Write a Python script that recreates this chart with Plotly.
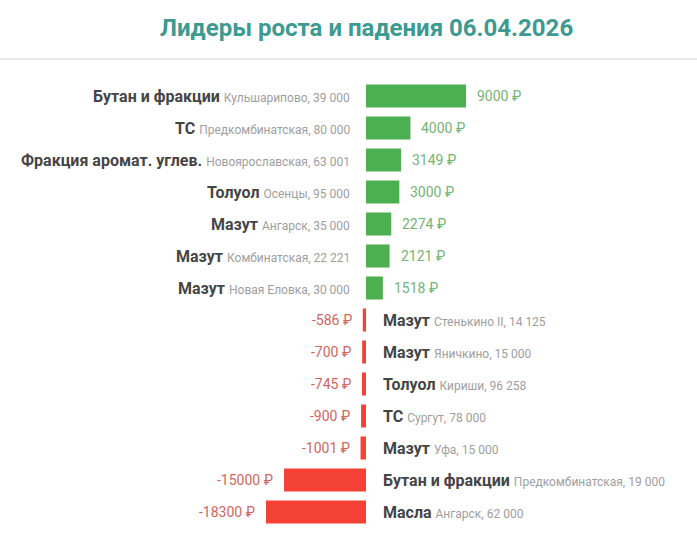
import plotly.graph_objects as go

# ---- data ----
gain_names = ["Бутан и фракции", "ТС", "Фракция аромат. углев.", "Толуол", "Мазут", "Мазут", "Мазут"]
gain_places = ["Кульшарипово, 39 000", "Предкомбинатская, 80 000", "Новоярославская, 63 001",
               "Осенцы, 95 000", "Ангарск, 35 000", "Комбинатская, 22 221", "Новая Еловка, 30 000"]
gain_values = [9000, 4000, 3149, 3000, 2274, 2121, 1518]

loss_names = ["Мазут", "Мазут", "Толуол", "ТС", "Мазут", "Бутан и фракции", "Масла"]
loss_places = ["Стенькино II, 14 125", "Яничкино, 15 000", "Кириши, 96 258", "Сургут, 78 000",
               "Уфа, 15 000", "Предкомбинатская, 19 000", "Ангарск, 62 000"]
loss_values = [-586, -700, -745, -900, -1001, -15000, -18300]

title_text = "Лидеры роста и падения 06.04.2026"

# ---- style ----
W, H = 697, 537
FONT = "Roboto"
GREEN = "#4caf50"
RED = "#f44336"
GREEN_TXT = "#74b474"
RED_TXT = "#cf6660"
NAME_CLR = "#454545"
PLACE_CLR = "#9e9e9e"

gain_keys = [f"{n} {p}" for n, p in zip(gain_names, gain_places)]
loss_keys = [f"{n} {p}" for n, p in zip(loss_names, loss_places)]
all_keys = gain_keys + loss_keys

zero_px = 366
top_px, row_h = 80, 32
n_rows = len(all_keys)
bottom_px = top_px + row_h * n_rows

pos_per_px = max(gain_values) / 100.0
neg_per_px = -min(loss_values) / 100.0

fig = go.Figure()
fig.add_trace(go.Bar(
    x=gain_values, y=gain_keys, orientation="h", marker=dict(color=GREEN, line=dict(width=0)),
    xaxis="x", yaxis="y", hoverinfo="skip", showlegend=False))
fig.add_trace(go.Bar(
    x=loss_values, y=loss_keys, orientation="h", marker=dict(color=RED, line=dict(width=0)),
    xaxis="x2", yaxis="y", hoverinfo="skip", showlegend=False))

ann = []
label_tpl = ("<b>{n}</b> <span style='font-size:12px;color:" + PLACE_CLR +
             ";font-weight:normal'>{p}</span>")
for k, n, p, v in zip(gain_keys, gain_names, gain_places, gain_values):
    ann.append(dict(xref="x", yref="y", x=0, y=k, xanchor="right", yanchor="middle",
                    xshift=-14, showarrow=False, text=label_tpl.format(n=n, p=p),
                    font=dict(family=FONT, size=16, color=NAME_CLR)))
    ann.append(dict(xref="x", yref="y", x=v, y=k, xanchor="left", yanchor="middle",
                    xshift=9, showarrow=False, text=f"{v} ₽",
                    font=dict(family=FONT, size=14, color=GREEN_TXT)))
for k, n, p, v in zip(loss_keys, loss_names, loss_places, loss_values):
    ann.append(dict(xref="x2", yref="y", x=0, y=k, xanchor="left", yanchor="middle",
                    xshift=15, showarrow=False, text=label_tpl.format(n=n, p=p),
                    font=dict(family=FONT, size=16, color=NAME_CLR)))
    ann.append(dict(xref="x2", yref="y", x=v, y=k, xanchor="right", yanchor="middle",
                    xshift=-9, showarrow=False, text=f"{v} ₽",
                    font=dict(family=FONT, size=14, color=RED_TXT)))

ann.append(dict(xref="paper", yref="paper", x=366 / W, y=1 - 28 / H, xanchor="center",
                yanchor="middle", showarrow=False, text=f"<b>{title_text}</b>",
                font=dict(family=FONT, size=24, color="#3d9a90")))

fig.update_layout(
    width=W, height=H, margin=dict(l=0, r=0, t=0, b=0),
    paper_bgcolor="white", plot_bgcolor="white",
    barmode="overlay", bargap=0.28,
    xaxis=dict(range=[-zero_px * pos_per_px, (W - zero_px) * pos_per_px], domain=[0, 1],
               visible=False, fixedrange=True),
    xaxis2=dict(range=[-zero_px * neg_per_px, (W - zero_px) * neg_per_px], domain=[0, 1],
                overlaying="x", visible=False, fixedrange=True),
    yaxis=dict(categoryorder="array", categoryarray=all_keys,
               range=[n_rows - 0.5, -0.5], domain=[1 - bottom_px / H, 1 - top_px / H],
               visible=False, fixedrange=True),
    annotations=ann,
    shapes=[dict(type="line", xref="paper", yref="paper", x0=0, x1=1,
                 y0=1 - 59 / H, y1=1 - 59 / H, line=dict(color="#e2e2e2", width=1.5))],
)

fig.write_html("out.html", config={"displayModeBar": False},
               post_script="document.body.style.margin='0';document.body.style.overflow='hidden';")
